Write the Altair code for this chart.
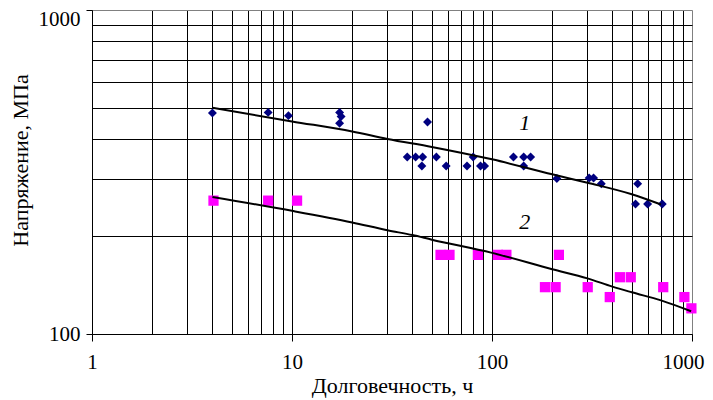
import altair as alt
import pandas as pd

# Series 1 (navy diamonds): durability, h / stress, MPa
s1_t = [4, 7.6, 9.6, 17.3, 17.6, 17.3, 47.6, 37.7, 41.5, 45, 44.6, 52.7, 59, 75, 80.5,
        87.6, 91.8, 128, 144, 156, 144, 211, 306, 322, 352, 535, 522, 600, 710]
s1_s = [481, 483, 472, 483, 469, 447, 451, 352, 352, 352, 330, 352, 330, 330, 352,
        330, 330, 352, 352, 352, 330, 302, 303, 303, 291, 291, 252, 252, 252]

# Series 2 (magenta squares)
s2_t = [4.05, 7.6, 10.6, 55.3, 61.3, 85, 107, 118, 216, 184, 208, 301, 388, 436, 494, 718, 916, 993]
s2_s = [258, 258, 258, 175.5, 175.5, 175.5, 175.5, 175.5, 175.5, 139.5, 139.5, 139.5, 130,
        149.7, 149.7, 139.5, 130, 120]

# Fitted curves
fit1_t = [4, 10, 20, 30, 50, 100, 200, 300, 500, 700]
fit1_s = [499, 453, 422, 400, 378, 346, 311, 293, 270, 251]
fit2_t = [4, 10, 20, 30, 40, 50, 100, 200, 300, 400, 500, 700, 990]
fit2_s = [264.6, 240, 221, 209, 202, 195.5, 178, 158.5, 148.5, 140, 134.5, 127, 117.5]

# Curve labels
lab_text = ["1", "2"]
lab_t = [146, 146]
lab_s = [449, 222]

# Axis grid / tick values
x_grid = [1, 2, 3, 4, 5, 6, 7, 8, 9, 10, 20, 30, 40, 50, 60, 70, 80, 90,
          100, 200, 300, 400, 500, 600, 700, 800, 900, 1000]
y_grid = [100, 200, 300, 400, 500, 600, 700, 800, 900, 1000]

FONT = "Liberation Serif"

pts1 = pd.DataFrame({"t": s1_t, "s": s1_s})
pts2 = pd.DataFrame({"t": s2_t, "s": s2_s})
fits = pd.DataFrame({
    "t": fit1_t + fit2_t,
    "s": fit1_s + fit2_s,
    "curve": ["1"] * len(fit1_t) + ["2"] * len(fit2_t),
})
labs = pd.DataFrame({"t": lab_t, "s": lab_s, "txt": lab_text})

xscale = alt.Scale(type="log", domain=[1, 1000], nice=False)
yscale = alt.Scale(type="log", domain=[100, 1000], nice=False)

major_x = "datum.value == 1 || datum.value == 10 || datum.value == 100 || datum.value == 1000"
major_y = "datum.value == 100 || datum.value == 1000"

x_axis = alt.Axis(
    values=x_grid,
    labelExpr=f"({major_x}) ? '' + datum.value : ''",
    labelOverlap=False,
    labelFlush=False,
    labelOffset={"condition": {"test": "datum.value == 1000", "value": -9}, "value": 0},
    labelFont=FONT, labelFontSize=21, labelColor="black", labelPadding=10,
    tickSize=7, tickColor="black",
    tickOpacity={"condition": {"test": major_x, "value": 1}, "value": 0},
    domainColor="black",
    grid=True, gridWidth=1,
    gridColor={"condition": {"test": "datum.value == 1000", "value": "#808080"}, "value": "black"},
    title="Долговечность, ч",
    titleFont=FONT, titleFontSize=22, titleFontWeight="normal", titleColor="black",
    titleY=58, titleBaseline="alphabetic",
)
y_axis = alt.Axis(
    values=y_grid,
    labelExpr=f"({major_y}) ? '' + datum.value : ''",
    labelOverlap=False,
    labelFlush=False,
    labelOffset={"condition": {"test": "datum.value == 1000", "value": 9}, "value": 0},
    labelFont=FONT, labelFontSize=21, labelColor="black", labelPadding=6,
    tickSize=6, tickColor="black",
    tickOpacity={"condition": {"test": major_y, "value": 1}, "value": 0},
    domainColor="black",
    grid=True, gridWidth=1,
    gridColor={"condition": {"test": "datum.value == 1000", "value": "#808080"}, "value": "black"},
    title="Напряжение, МПа",
    titleFont=FONT, titleFontSize=22, titleFontWeight="normal", titleColor="black",
    titleX=-64.5, titleY=150, titleBaseline="alphabetic",
)

X = alt.X("t:Q", scale=xscale, axis=x_axis)
Y = alt.Y("s:Q", scale=yscale, axis=y_axis)
Xn = alt.X("t:Q", scale=xscale)
Yn = alt.Y("s:Q", scale=yscale)

p1 = alt.Chart(pts1).mark_point(shape="diamond", filled=True, size=80, color="#000080", opacity=1).encode(x=X, y=Y)
p2 = alt.Chart(pts2).mark_point(shape="square", filled=True, size=105, color="#FF00FF", opacity=1).encode(x=Xn, y=Yn)
lines = alt.Chart(fits).mark_line(color="black", strokeWidth=2, interpolate="monotone").encode(
    x=Xn, y=Yn, detail="curve:N")
texts = alt.Chart(labs).mark_text(font=FONT, fontSize=22, fontStyle="italic", color="black",
                                  baseline="middle", align="center").encode(x=Xn, y=Yn, text="txt:N")

chart = alt.layer(p1, p2, lines, texts).properties(
    width=600, height=324,
    autosize=alt.AutoSizeParams(type="none"),
    padding={"left": 84, "top": 2, "right": 13, "bottom": 66},
).configure_view(stroke="#808080", strokeWidth=1).configure(background="white")

chart.save("out.html", embed_options={"renderer": "svg", "actions": False})
